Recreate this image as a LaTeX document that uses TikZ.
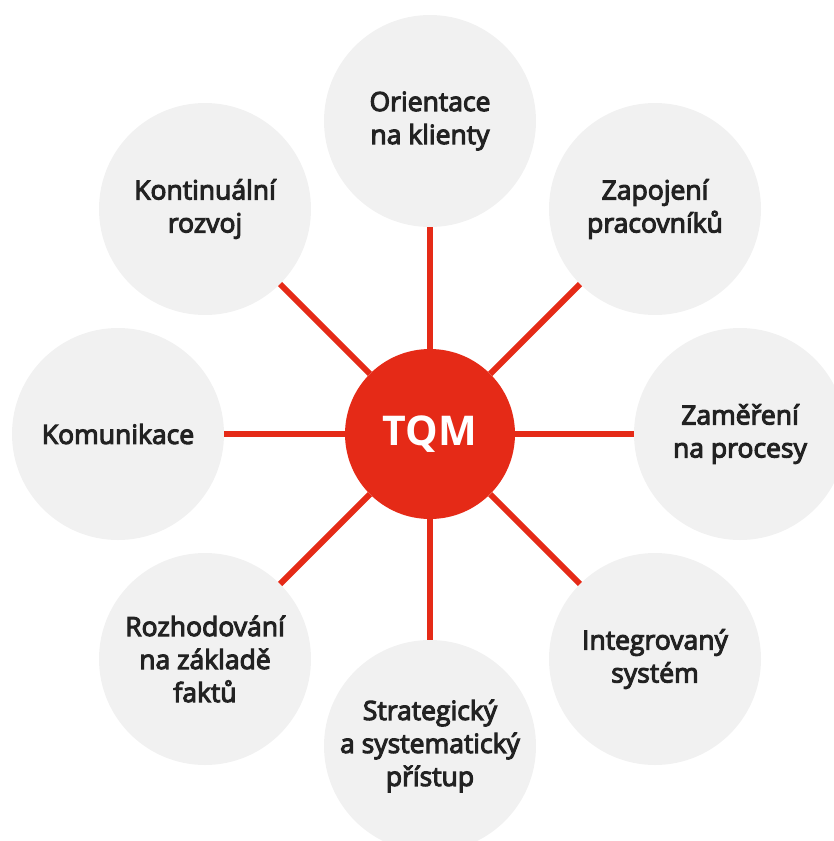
\documentclass[tikz,border=0pt]{standalone}
\usepackage{fontspec}
\setmainfont{Open Sans}
\newfontfamily\sbfont{Open Sans}[FakeBold=4]
\definecolor{tqmred}{HTML}{E52A17}
\definecolor{bubble}{HTML}{F1F1F1}
\definecolor{txt}{HTML}{222222}
\begin{document}
\begin{tikzpicture}[x=1pt,y=-1pt,
  outer/.style={circle,fill=bubble,minimum size=212pt,inner sep=0pt,align=center,text=txt,
    font=\sbfont\fontsize{26.5}{33}\selectfont},
  hub/.style={circle,fill=tqmred,minimum size=170pt,inner sep=0pt,text=white,
    font=\bfseries\fontsize{41}{48}\selectfont},
  spoke/.style={draw=tqmred,line width=6pt}]
\useasboundingbox (0,0) rectangle (833,841);
\node[hub] (tqm) at (430,434) {TQM};
\node[outer] (n) at (430,121) {Orientace\\na klienty};
\node[outer] (ne) at (655,209) {Zapojení\\pracovníků};
\node[outer] (e) at (740,434) {Zaměření\\na procesy};
\node[outer] (se) at (655,659) {Integrovaný\\systém};
\node[outer] (s) at (430,746) {Strategický\\a systematický\\přístup};
\node[outer] (sw) at (205,659) {Rozhodování\\na základě\\faktů};
\node[outer] (w) at (118,434) {Komunikace};
\node[outer] (nw) at (205,209) {Kontinuální\\rozvoj};
\foreach \o in {n,ne,e,se,s,sw,w,nw}
  \draw[spoke] (tqm) -- (\o);
\end{tikzpicture}
\end{document}
